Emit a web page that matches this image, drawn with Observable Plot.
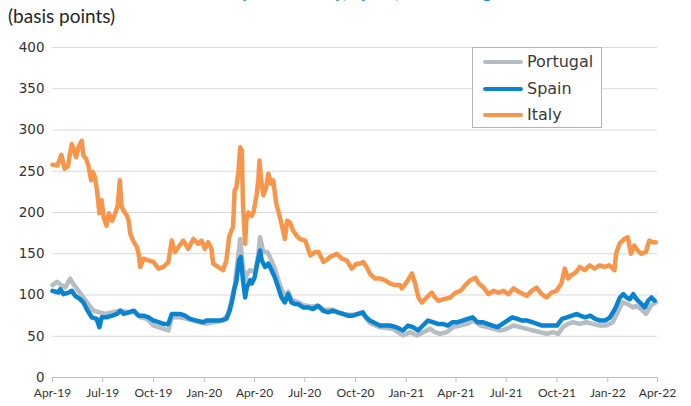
<!DOCTYPE html>
<html><head><meta charset="utf-8">
<script src="https://cdn.jsdelivr.net/npm/d3@7"></script>
<script src="https://cdn.jsdelivr.net/npm/@observablehq/plot@0.6"></script>
<style>
body{margin:0;background:#fff;}
#wrap{position:relative;width:691px;height:406px;overflow:hidden;background:#fff;}
#chart{position:absolute;left:0;top:0;}
#title{position:absolute;left:0;top:-18px;width:691px;text-align:center;font:bold 18px Lato, sans-serif;color:#0b86d1;line-height:18px;white-space:nowrap;}
#sub{position:absolute;left:8px;top:6px;font:19px Lato, sans-serif;color:#262626;line-height:19px;}
#legend{position:absolute;left:472px;top:47px;width:128px;height:79px;border:1px solid #b4b4b4;background:#fff;}
.li{position:absolute;left:10px;height:20px;}
.sw{position:absolute;left:0;top:8px;width:40px;height:4px;border-radius:2px;}
.lt{position:absolute;left:44px;top:0;font:16px "DejaVu Sans", sans-serif;color:#3a3a3a;line-height:20px;white-space:nowrap;}
</style></head><body>
<div id="wrap">
<div id="chart"></div>
<div id="title"></div>
<div id="sub"></div>
<div id="legend"></div>
</div>
<script>
const titleText = "Country risk of Italy, Spain, and Portugal";
const subtitleText = "(basis points)";
const seriesNames = ["Portugal", "Spain", "Italy"];
const seriesColors = ["#b5bdc2", "#0b84d0", "#f7964a"];
const yTicks = [0, 50, 100, 150, 200, 250, 300, 350, 400];
const xTicks = ["2019-04-01","2019-07-01","2019-10-01","2020-01-01","2020-04-01","2020-07-01","2020-10-01","2021-01-01","2021-04-01","2021-07-01","2021-10-01","2022-01-01","2022-04-01"];

const portugalDates = ["2019-04-01","2019-04-09","2019-04-15","2019-04-24","2019-05-03","2019-05-09","2019-05-18","2019-05-27","2019-06-05","2019-06-14","2019-06-26","2019-07-05","2019-07-18","2019-08-02","2019-08-17","2019-08-29","2019-09-07","2019-09-19","2019-10-01","2019-10-10","2019-10-19","2019-10-28","2019-11-03","2019-11-18","2019-11-30","2019-12-12","2019-12-24","2020-01-05","2020-01-17","2020-02-04","2020-02-13","2020-02-19","2020-02-25","2020-03-03","2020-03-06","2020-03-10","2020-03-15","2020-03-18","2020-03-24","2020-04-02","2020-04-08","2020-04-11","2020-04-17","2020-04-24","2020-04-29","2020-05-08","2020-05-17","2020-05-26","2020-06-01","2020-06-07","2020-06-16","2020-06-28","2020-07-11","2020-07-25","2020-08-06","2020-08-21","2020-09-02","2020-09-17","2020-09-30","2020-10-14","2020-10-27","2020-11-14","2020-12-08","2020-12-26","2021-01-08","2021-01-20","2021-02-01","2021-02-13","2021-02-22","2021-03-03","2021-03-15","2021-03-27","2021-04-09","2021-04-21","2021-05-03","2021-05-15","2021-05-27","2021-06-08","2021-06-20","2021-07-02","2021-07-14","2021-07-26","2021-08-07","2021-08-19","2021-08-31","2021-09-12","2021-09-24","2021-10-03","2021-10-12","2021-10-21","2021-10-30","2021-11-11","2021-11-23","2021-12-05","2021-12-17","2021-12-29","2022-01-10","2022-01-19","2022-01-28","2022-02-06","2022-02-15","2022-02-21","2022-03-02","2022-03-11","2022-03-20","2022-03-29"];
const portugalValues = [112,116,113,109,120,113,105,97,89,81,79,77,79,81,79,79,73,71,63,61,59,57,73,73,71,69,67,65,67,69,77,93,112,150,168,140,118,125,130,128,150,170,152,152,146,132,112,98,104,94,92,88,86,87,82,82,78,76,76,78,66,61,59,51,55,51,55,59,55,53,55,61,63,65,69,63,61,59,57,59,63,61,59,57,55,53,55,53,61,65,67,65,67,65,63,63,67,79,91,89,85,87,83,77,87,91];

const spainDates = ["2019-04-01","2019-04-12","2019-04-15","2019-04-21","2019-04-30","2019-05-06","2019-05-12","2019-05-21","2019-05-27","2019-06-02","2019-06-11","2019-06-20","2019-06-25","2019-06-29","2019-07-08","2019-07-18","2019-07-27","2019-08-02","2019-08-08","2019-08-17","2019-08-26","2019-09-04","2019-09-13","2019-09-22","2019-10-01","2019-10-10","2019-10-19","2019-10-28","2019-11-03","2019-11-09","2019-11-18","2019-11-27","2019-12-06","2019-12-18","2019-12-30","2020-01-05","2020-01-17","2020-01-29","2020-02-10","2020-02-16","2020-02-21","2020-02-25","2020-02-28","2020-03-04","2020-03-07","2020-03-11","2020-03-15","2020-03-18","2020-03-24","2020-03-27","2020-04-01","2020-04-06","2020-04-11","2020-04-14","2020-04-20","2020-04-26","2020-05-02","2020-05-08","2020-05-14","2020-05-20","2020-05-26","2020-06-01","2020-06-07","2020-06-13","2020-06-19","2020-06-28","2020-07-07","2020-07-16","2020-07-25","2020-08-03","2020-08-12","2020-08-21","2020-08-30","2020-09-08","2020-09-17","2020-09-26","2020-10-05","2020-10-14","2020-10-20","2020-10-27","2020-11-14","2020-12-02","2020-12-14","2020-12-26","2021-01-04","2021-01-13","2021-01-22","2021-01-31","2021-02-09","2021-02-18","2021-02-27","2021-03-08","2021-03-17","2021-03-26","2021-04-04","2021-04-13","2021-04-22","2021-05-01","2021-05-10","2021-05-19","2021-05-28","2021-06-06","2021-06-15","2021-06-24","2021-07-03","2021-07-12","2021-07-21","2021-07-30","2021-08-08","2021-08-17","2021-08-26","2021-09-04","2021-09-13","2021-09-22","2021-10-01","2021-10-10","2021-10-19","2021-10-28","2021-11-06","2021-11-12","2021-11-21","2021-11-30","2021-12-09","2021-12-18","2021-12-27","2022-01-05","2022-01-14","2022-01-23","2022-01-29","2022-02-04","2022-02-10","2022-02-16","2022-02-22","2022-03-03","2022-03-09","2022-03-15","2022-03-21","2022-03-27"];
const spainValues = [105,103,107,101,103,105,99,95,91,83,73,71,61,73,73,75,77,81,77,79,81,75,75,73,69,67,65,65,77,77,77,75,71,69,67,69,69,69,71,81,95,109,116,142,146,118,97,109,118,114,121,138,154,142,134,138,130,121,109,97,91,101,91,89,89,85,85,83,87,81,79,81,79,77,75,75,77,79,73,69,63,63,61,57,63,61,57,63,69,67,65,65,63,67,67,69,71,73,67,67,65,63,61,65,69,73,71,69,69,67,65,63,63,63,63,71,73,75,77,75,73,75,71,69,69,73,83,97,101,97,95,101,95,89,85,93,97,93];

const italyDates = ["2019-04-01","2019-04-10","2019-04-17","2019-04-23","2019-04-29","2019-05-02","2019-05-06","2019-05-09","2019-05-14","2019-05-18","2019-05-24","2019-05-27","2019-06-01","2019-06-05","2019-06-10","2019-06-13","2019-06-17","2019-06-21","2019-06-25","2019-06-29","2019-07-03","2019-07-08","2019-07-12","2019-07-18","2019-07-24","2019-07-28","2019-08-01","2019-08-04","2019-08-08","2019-08-14","2019-08-17","2019-08-20","2019-08-25","2019-09-01","2019-09-04","2019-09-07","2019-09-13","2019-09-22","2019-10-01","2019-10-10","2019-10-19","2019-10-28","2019-11-03","2019-11-09","2019-11-15","2019-11-24","2019-12-03","2019-12-12","2019-12-21","2019-12-27","2020-01-02","2020-01-08","2020-01-14","2020-01-17","2020-01-26","2020-02-04","2020-02-10","2020-02-15","2020-02-19","2020-02-22","2020-02-25","2020-02-28","2020-03-03","2020-03-06","2020-03-09","2020-03-11","2020-03-15","2020-03-17","2020-03-21","2020-03-27","2020-03-30","2020-04-05","2020-04-08","2020-04-10","2020-04-13","2020-04-17","2020-04-22","2020-04-26","2020-05-01","2020-05-05","2020-05-10","2020-05-14","2020-05-20","2020-05-26","2020-05-30","2020-06-04","2020-06-10","2020-06-16","2020-06-22","2020-07-02","2020-07-11","2020-07-20","2020-07-26","2020-08-04","2020-08-16","2020-08-28","2020-09-06","2020-09-15","2020-09-24","2020-10-03","2020-10-09","2020-10-15","2020-10-21","2020-10-27","2020-11-05","2020-11-14","2020-11-23","2020-12-02","2020-12-11","2020-12-20","2020-12-24","2021-01-02","2021-01-11","2021-01-17","2021-01-23","2021-01-29","2021-02-07","2021-02-16","2021-02-22","2021-02-28","2021-03-10","2021-03-22","2021-03-31","2021-04-09","2021-04-18","2021-04-27","2021-05-06","2021-05-12","2021-05-21","2021-05-30","2021-06-08","2021-06-17","2021-06-26","2021-07-05","2021-07-14","2021-07-26","2021-08-07","2021-08-16","2021-08-25","2021-09-03","2021-09-12","2021-09-21","2021-09-30","2021-10-09","2021-10-15","2021-10-21","2021-10-27","2021-11-05","2021-11-11","2021-11-20","2021-11-29","2021-12-08","2021-12-17","2021-12-26","2022-01-04","2022-01-13","2022-01-16","2022-01-22","2022-01-31","2022-02-06","2022-02-12","2022-02-18","2022-02-24","2022-03-02","2022-03-11","2022-03-17","2022-03-23","2022-03-29"];
const italyValues = [258,257,270,253,256,269,283,277,267,279,287,269,265,257,239,249,243,225,199,215,193,184,199,190,200,208,239,208,202,196,190,174,166,158,150,134,144,142,140,132,134,140,166,152,158,166,156,168,162,166,156,164,156,138,134,130,142,170,178,182,227,230,251,279,275,211,162,190,200,196,200,222,241,263,239,221,230,247,235,239,212,202,186,168,190,188,178,172,168,166,148,152,152,140,146,150,144,142,132,138,138,140,134,126,120,120,118,114,112,112,108,116,126,114,97,91,97,103,97,93,95,97,103,105,112,118,121,114,109,101,105,103,105,101,108,103,99,105,109,101,97,103,105,114,132,120,124,128,134,130,136,132,136,134,136,130,150,162,168,170,150,160,154,150,152,166,164,164];

const dateList = [portugalDates, spainDates, italyDates];
const valueList = [portugalValues, spainValues, italyValues];
const rows = [];
seriesNames.forEach((name, i) => {
  dateList[i].forEach((d, j) => rows.push({series: name, date: new Date(d + "T00:00:00Z"), value: valueList[i][j]}));
});

const chart = Plot.plot({
  width: 691,
  height: 406,
  marginTop: 47,
  marginBottom: 29,
  marginLeft: 52,
  marginRight: 34,
  style: {background: "white", overflow: "visible"},
  x: {type: "utc", domain: [new Date(xTicks[0] + "T00:00:00Z"), new Date(xTicks[xTicks.length - 1] + "T00:00:00Z")]},
  y: {domain: [0, 400]},
  color: {domain: seriesNames, range: seriesColors},
  marks: [
    Plot.gridY(yTicks.filter(v => v > 0), {stroke: "#d9d9d9", strokeOpacity: 1, strokeWidth: 1}),
    Plot.axisY(yTicks, {tickSize: 0, tickPadding: 8, fontSize: 13.5, fontFamily: "DejaVu Sans", fill: "#333", label: null}),
    Plot.ruleY([0], {stroke: "#bfbfbf"}),
    Plot.axisX(xTicks.map(d => new Date(d + "T00:00:00Z")), {
      tickSize: 5, tickPadding: 6, stroke: "#bfbfbf", fill: "#333",
      fontSize: 12, fontFamily: "Lato", label: null,
      tickFormat: d3.utcFormat("%b-%y")
    }),
    Plot.line(rows, {x: "date", y: "value", z: "series", stroke: "series", strokeWidth: 4.5, strokeLinejoin: "round", strokeLinecap: "round"})
  ]
});
document.getElementById("chart").appendChild(chart);
document.getElementById("title").textContent = titleText;
document.getElementById("sub").textContent = subtitleText;
const legend = document.getElementById("legend");
seriesNames.forEach((name, i) => {
  const item = document.createElement("div");
  item.className = "li";
  item.style.top = (4 + i * 26.5) + "px";
  item.innerHTML = `<div class="sw" style="background:${seriesColors[i]}"></div><div class="lt"></div>`;
  item.querySelector(".lt").textContent = name;
  legend.appendChild(item);
});
</script>
</body></html>
